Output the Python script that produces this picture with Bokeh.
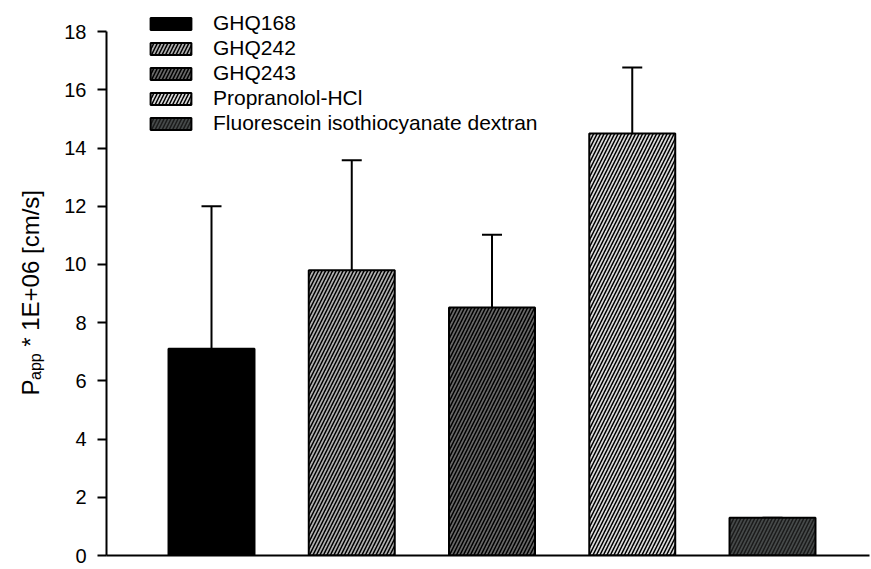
import math
from bokeh.plotting import figure
from bokeh.layouts import row
from bokeh.models import ColumnDataSource, Legend, LegendItem, Whisker, FixedTicker, Range1d
from bokeh.core.properties import value
from bokeh.embed import file_html
from bokeh.resources import INLINE

# ---- data ----
names = ["GHQ168", "GHQ242", "GHQ243", "Propranolol-HCl", "Fluorescein isothiocyanate dextran"]
positions = [1, 2, 3, 4, 5]
values = [7.1, 9.8, 8.52, 14.5, 1.3]
errors = [4.9, 3.78, 2.5, 2.27, 0.0]
yticks = [0, 2, 4, 6, 8, 10, 12, 14, 16, 18]
ylabel_main = "P"
ylabel_sub = "app"
ylabel_rest = "* 1E+06 [cm/s]"

fills = ["#000000", "#b0b0b0", "#686868", "#dadada", "#464a4a"]
hatch_colors = ["#000000", "#000000", "#000000", "#000000", "#1a1a1a"]

FONT = "Liberation Sans"
LAB_W = 45
H = 569

# ---- y-axis label strip (as its own small figure, so the subscript can be drawn) ----
lab = figure(width=LAB_W, height=H, output_backend="svg", toolbar_location=None,
             x_range=Range1d(0, LAB_W), y_range=Range1d(0, H),
             x_axis_type=None, y_axis_type=None,
             min_border_left=0, min_border_right=0, min_border_top=0, min_border_bottom=0)
lab.outline_line_color = None
lab.xgrid.visible = False
lab.ygrid.visible = False
ang = math.pi / 2
lab.text(x=[30], y=[H - 405], text=[ylabel_main], angle=ang, text_font=value(FONT),
         text_font_size="24px", text_baseline="alphabetic", text_align="left", text_color="black")
lab.text(x=[35], y=[H - 389], text=[ylabel_sub], angle=ang, text_font=value(FONT),
         text_font_size="16px", text_baseline="alphabetic", text_align="left", text_color="black")
lab.text(x=[30], y=[H - 355], text=[ylabel_rest], angle=ang, text_font=value(FONT),
         text_font_size="24px", text_baseline="alphabetic", text_align="left", text_color="black")

# ---- main chart ----
p = figure(width=871 - LAB_W, height=H, output_backend="svg", toolbar_location=None,
           x_range=Range1d(0.2513, 5.6916), y_range=Range1d(0, 19.07),
           min_border_left=106 - LAB_W, min_border_right=2, min_border_top=0, min_border_bottom=14)
p.outline_line_color = None
p.xgrid.visible = False
p.ygrid.visible = False
p.background_fill_color = "white"
p.border_fill_color = "white"

renderers = []
for i in range(len(names)):
    src = ColumnDataSource(dict(x=[positions[i]], top=[values[i]]))
    r = p.vbar(x="x", top="top", bottom=0, width=0.613, source=src,
               fill_color=fills[i], line_color="black", line_width=2,
               hatch_pattern=("/" if i > 0 else " "), hatch_color=hatch_colors[i],
               hatch_scale=7, hatch_weight=1.5)
    renderers.append(r)

err_src = ColumnDataSource(dict(x=positions, lower=values,
                                upper=[v + e for v, e in zip(values, errors)]))
wh = Whisker(base="x", lower="lower", upper="upper", source=err_src, dimension="height",
             line_color="black", line_width=2, lower_head=None)
wh.upper_head.size = 20
wh.upper_head.line_width = 2
wh.upper_head.line_color = "black"
p.add_layout(wh)

# axes
p.yaxis.ticker = FixedTicker(ticks=yticks)
p.yaxis.bounds = (0, 18)
p.yaxis.axis_line_width = 2
p.yaxis.major_tick_line_width = 2
p.yaxis.major_tick_out = 9
p.yaxis.major_tick_in = 0
p.yaxis.minor_tick_out = 0
p.yaxis.minor_tick_in = 0
p.yaxis.major_label_standoff = 11
p.yaxis.major_label_text_font = FONT
p.yaxis.major_label_text_font_size = "20px"
p.yaxis.major_label_text_color = "black"

p.xaxis.ticker = FixedTicker(ticks=[])
p.xaxis.axis_line_width = 2
p.xaxis.major_tick_out = 0
p.xaxis.minor_tick_out = 0
p.xaxis.major_label_text_font_size = "0px"

# legend
items = [LegendItem(label=names[i], renderers=[renderers[i]]) for i in range(len(names))]
legend = Legend(items=items, location=(39, 420), orientation="vertical",
                glyph_width=51, glyph_height=15, label_height=20, spacing=1,
                label_standoff=17, padding=5, margin=0,
                label_text_font=FONT, label_text_font_size="21px", label_text_color="black",
                border_line_color=None, background_fill_alpha=0)
p.add_layout(legend)

layout = row(lab, p, spacing=0)
open("out.html", "w").write(file_html(layout, INLINE))
